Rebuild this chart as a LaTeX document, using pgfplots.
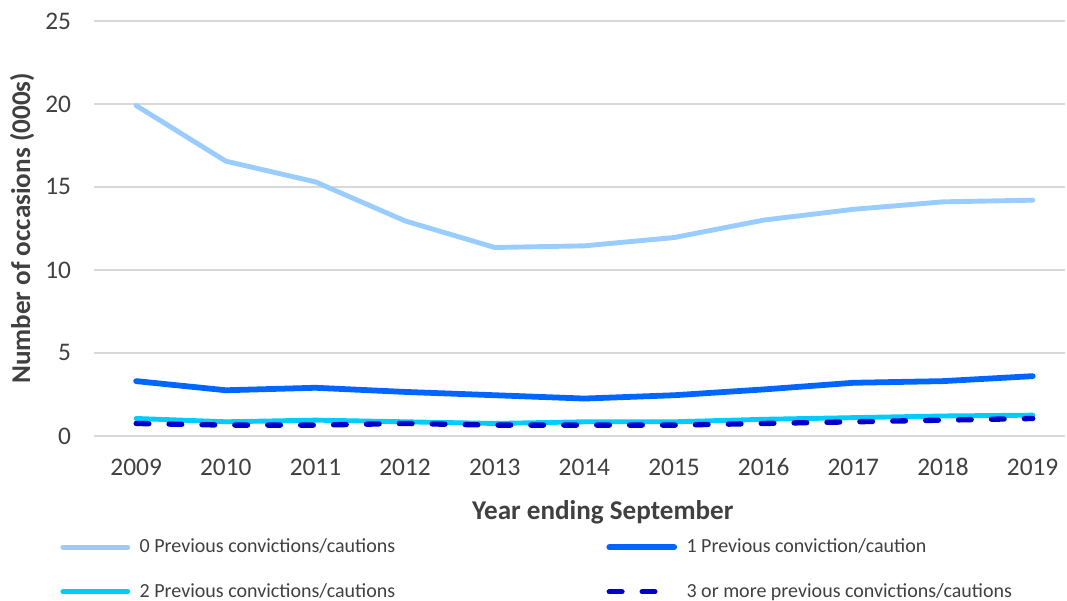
\documentclass[border=0pt]{standalone}
\usepackage{pgfplots}
\pgfplotsset{compat=1.18}
\usepackage{fontspec}
\setmainfont{Carlito}

\definecolor{prev0}{HTML}{99CCFF}
\definecolor{prev1}{HTML}{0066FF}
\definecolor{prev2}{HTML}{00CCFF}
\definecolor{prev3}{HTML}{0000CC}
\definecolor{gridgray}{HTML}{D9D9D9}
\definecolor{txt}{HTML}{404040}

\begin{document}
\begin{tikzpicture}
  % page = 480pt x 270pt, axis box lower left at the origin
  \useasboundingbox (-42.3pt,-73.9pt) rectangle (437.7pt,196.1pt);
  \begin{axis}[
      at={(0pt,0pt)}, anchor=south west,
      scale only axis,
      width=436.8pt,
      height=186.7pt,
      xmin=2008.53, xmax=2019.36,
      ymin=0, ymax=25,
      xtick={2009,...,2019},
      ytick={0,5,...,25},
      /pgf/number format/1000 sep={},
      /pgf/number format/assume math mode=true,
      tick style={draw=none},
      axis line style={draw=none},
      ymajorgrids,
      grid style={gridgray, line width=0.6pt},
      ticklabel style={font=\fontsize{11.4}{13}\selectfont, text=txt},
      yticklabel style={anchor=east, xshift=-6.8pt},
      xticklabel style={anchor=base, yshift=-18pt},
      xlabel={\textbf{Year ending September}},
      ylabel={\textbf{Number of occasions (000s)}},
      label style={font=\fontsize{12.2}{14}\selectfont, text=txt},
      xlabel style={at={(axis description cs:0.524,0)}, anchor=base, yshift=-37.4pt},
      ylabel style={at={([xshift=-32.4pt]axis description cs:0,0.5)}, anchor=center, rotate=0},
      legend columns=2,
      legend cell align=left,
      legend style={
        draw=none, fill=none,
        inner sep=0pt,
        nodes={inner sep=0pt},
        at={(axis description cs:0,0)}, anchor=north west,
        xshift=-15.3pt, yshift=-46pt,
        font=\fontsize{9}{11}\selectfont,
        text=txt,
        /tikz/every even column/.append style={column sep=95pt},
        row sep=12.3pt,
      },
      legend image code/.code={
        \draw[#1] (1.15pt,0pt) -- (30.35pt,0pt);
        \path (34.6pt,0pt);
      },
    ]

    \addplot[prev0, line width=2.2pt, line cap=round, line join=round]
      coordinates {
        (2009,19.9) (2010,16.55) (2011,15.3) (2012,12.95) (2013,11.35)
        (2014,11.45) (2015,11.95) (2016,13.0) (2017,13.65) (2018,14.1) (2019,14.2)
      };
    \addlegendentry{0 Previous convictions/cautions}

    \addplot[prev1, line width=2.6pt, line cap=round, line join=round]
      coordinates {
        (2009,3.3) (2010,2.75) (2011,2.9) (2012,2.65) (2013,2.45)
        (2014,2.25) (2015,2.45) (2016,2.8) (2017,3.2) (2018,3.3) (2019,3.6)
      };
    \addlegendentry{1 Previous conviction/caution}

    \addplot[prev2, line width=2.2pt, line cap=round, line join=round]
      coordinates {
        (2009,1.05) (2010,0.85) (2011,0.95) (2012,0.85) (2013,0.75)
        (2014,0.85) (2015,0.85) (2016,1.0) (2017,1.1) (2018,1.2) (2019,1.25)
      };
    \addlegendentry{2 Previous convictions/cautions}

    \addplot[prev3, line width=2.4pt, line cap=round, dash pattern=on 5.7pt off 9.1pt]
      coordinates {
        (2009,0.75) (2010,0.65) (2011,0.65) (2012,0.75) (2013,0.65)
        (2014,0.65) (2015,0.65) (2016,0.75) (2017,0.85) (2018,0.95) (2019,1.05)
      };
    \addlegendentry{3 or more previous convictions/cautions}

  \end{axis}
\end{tikzpicture}
\end{document}
